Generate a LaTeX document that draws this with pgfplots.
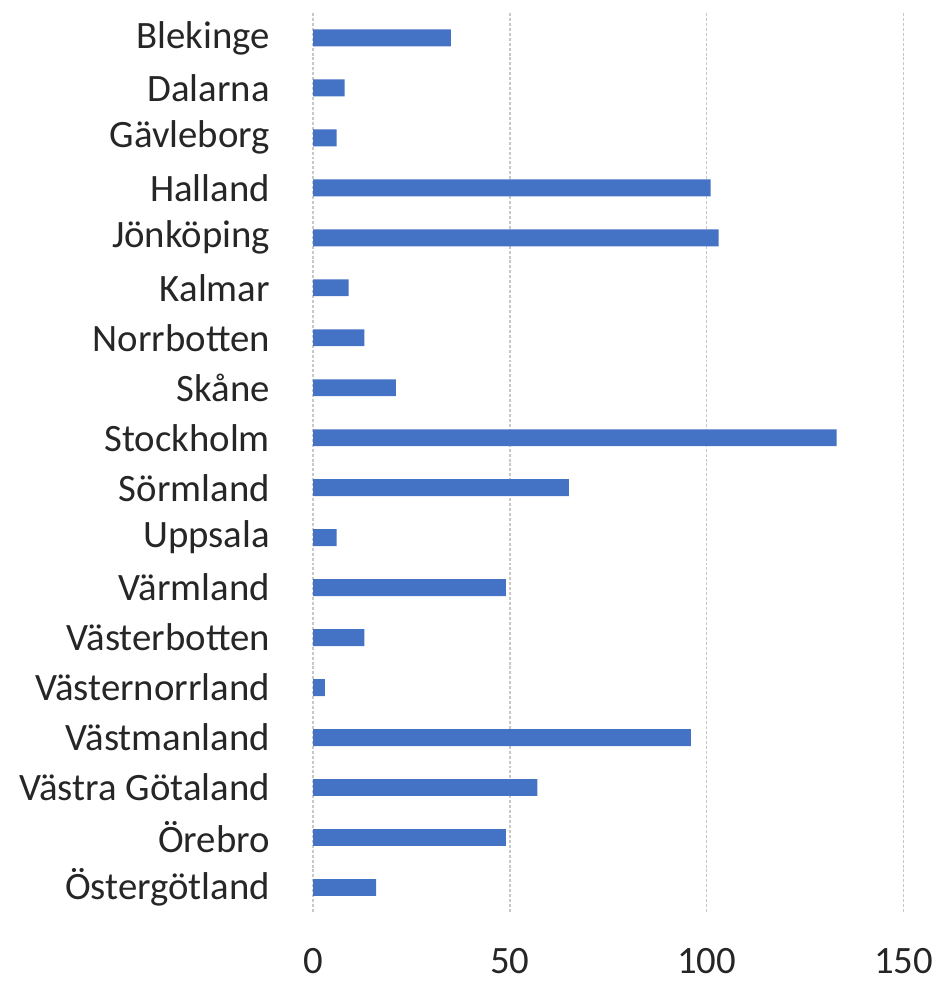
\documentclass[border=0pt]{standalone}
\usepackage{pgfplots}
\pgfplotsset{compat=1.18}
\usepackage{fontspec}
\setmainfont{Carlito}
\definecolor{barblue}{HTML}{4472C4}
\definecolor{gridgray}{HTML}{C8C8C8}
\begin{document}
\fontsize{39bp}{46bp}\selectfont
\begin{tikzpicture}
\path[use as bounding box] (-315bp,-76bp) rectangle (635bp,918bp);
\begin{axis}[
  scale only axis,
  width=594bp, height=905bp,
  xbar, bar width=17bp,
  xmin=0, xmax=150, ymin=-0.5, ymax=17.5,
  y dir=reverse,
  enlargelimits=false,
  axis line style={draw=none},
  tick style={draw=none},
  xtick={0,50,100,150},
  xmajorgrids,
  grid style={densely dashed, color=gridgray, line width=1.5bp},
  ytick={0,...,17},
  yticklabels={Blekinge,Dalarna,Gävleborg,Halland,Jönköping,Kalmar,Norrbotten,Skåne,Stockholm,Sörmland,Uppsala,Värmland,Västerbotten,Västernorrland,Västmanland,Västra Götaland,Örebro,Östergötland},
  yticklabel style={inner sep=0pt, anchor=east, xshift=-39bp, font=\fontsize{39bp}{46bp}\selectfont, text=black!85},
  xticklabel style={inner sep=0pt, anchor=north, yshift=-36bp, font=\fontsize{39bp}{46bp}\selectfont, text=black!85},
  /pgf/number format/assume math mode=true,
]
\addplot[fill=barblue, draw=none] coordinates {
(35,0) (8,1) (6,2) (101,3) (103,4) (9,5) (13,6) (21,7) (133,8) (65,9)
(6,10) (49,11) (13,12) (3,13) (96,14) (57,15) (49,16) (16,17)
};
\end{axis}
\end{tikzpicture}
\end{document}
